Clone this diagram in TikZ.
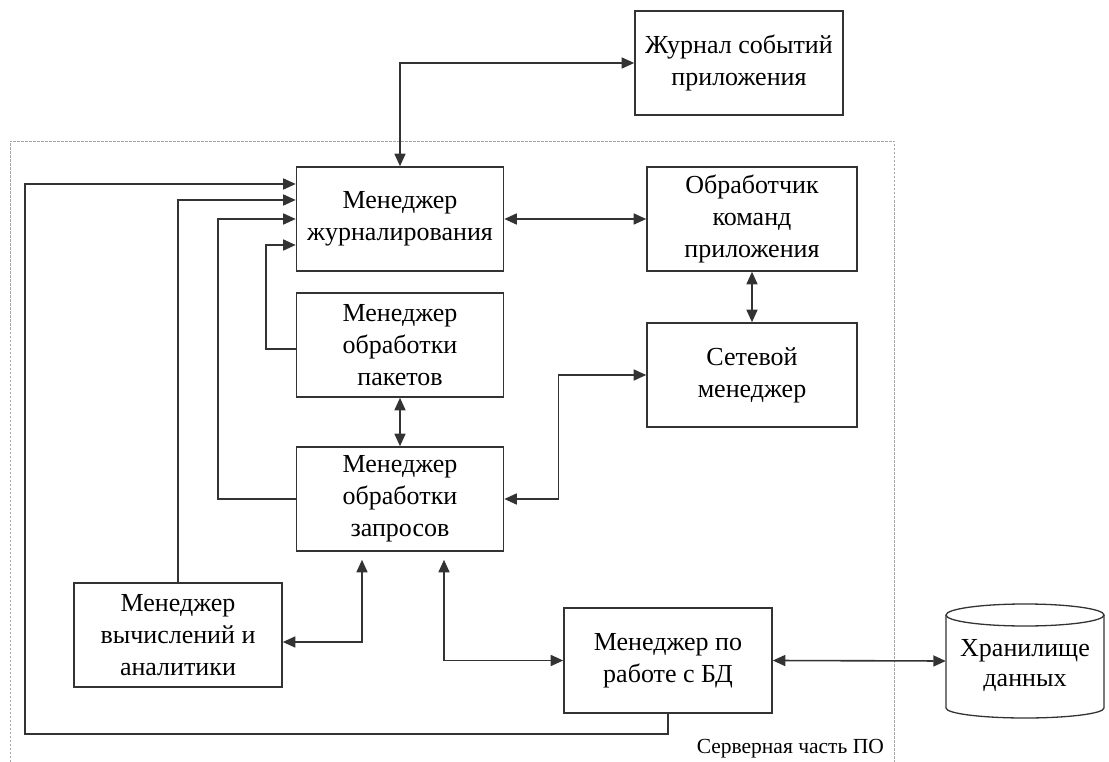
\documentclass[tikz,border=0pt]{standalone}
\usepackage{fontspec}
\setmainfont{Liberation Serif}
\usetikzlibrary{arrows.meta,calc}

\tikzset{
  block/.style={draw=black!80, line width=1.6pt, fill=white, inner sep=0pt,
    align=center, font=\fontsize{26}{32}\selectfont},
  tip/.tip={Triangle[length=12.5pt,width=11pt]},
  link/.style={draw=black!80, line width=1.6pt, arrows={-tip}},
  blink/.style={draw=black!80, line width=1.6pt, arrows={tip-tip}},
  wire/.style={draw=black!80, line width=1.6pt},
  border/.style={draw=black!35, line width=0.9pt, dash pattern=on 2.5pt off 1.5pt}
}

\begin{document}
\begin{tikzpicture}[x=1pt, y=-1pt]
  \useasboundingbox (0,0) rectangle (1109,762);

  % server-side boundary
  \draw[border] (10,770) -- (10,141) -- (894,141) -- (894,770);
  \node[anchor=base east, inner sep=0pt, font=\fontsize{21.5}{25}\selectfont]
    (area) at (884,753) {Серверная часть ПО};

  % blocks
  \node[block, minimum width=208pt, minimum height=104pt] (journal) at (739,63)
    {Журнал событий\\приложения};
  \node[block, minimum width=207pt, minimum height=104pt] (logm) at (400,219)
    {Менеджер\\журналирования};
  \node[block, minimum width=210pt, minimum height=104pt] (cmd) at (752,219)
    {Обработчик\\команд\\приложения};
  \node[block, minimum width=207pt, minimum height=104pt] (pkt) at (400,345)
    {Менеджер\\обработки\\пакетов};
  \node[block, minimum width=210pt, minimum height=104pt] (net) at (752,375)
    {Сетевой\\менеджер};
  \node[block, minimum width=207pt, minimum height=104pt] (req) at (400,499)
    {Менеджер\\обработки\\запросов};
  \node[block, minimum width=208pt, minimum height=104pt] (calc) at (178,635)
    {Менеджер\\вычислений и\\аналитики};
  \node[block, minimum width=208pt, minimum height=105pt] (db) at (668,660.5)
    {Менеджер по\\работе с БД};

  % data storage cylinder
  \node[inner sep=0pt, minimum width=158pt, minimum height=114pt] (store) at (1025,661) {};
  \draw[wire, line width=1.3pt]
    (946,615) -- (946,708) arc[start angle=180, end angle=360, x radius=79, y radius=-10]
    -- (1104,615);
  \draw[wire, line width=1.3pt] (1025,615) ellipse[x radius=79, y radius=11];
  \node[align=center, font=\fontsize{26}{30}\selectfont] (storetext) at (1025,665)
    {Хранилище\\данных};

  % connectors
  \draw[blink] (logm.north) |- (journal.west);
  \draw[blink] (logm.east) -- (cmd.west);
  \draw[blink] (cmd.south) -- (net.north);
  \draw[blink] (pkt.south) -- (req.north);
  \draw[blink] (req.east) -- ++(54,0) |- (net.west);
  \draw[link] (req.west) -- ++(-78,0) |- (logm.west);
  \draw[link] ($(pkt.west)+(0,4)$) -- ++(-30,0) |- ($(logm.west)+(0,26)$);
  \draw[link] (calc.north) |- ($(logm.west)+(0,-19)$);
  \draw[link] (db.south) -- ++(0,20) -| (25,184) -- ($(logm.west)+(0,-35)$);
  \draw[blink] ($(calc.east)+(0,7)$) -| ($(req.south)+(-38,8)$);
  \draw[blink] ($(req.south)+(44,8)$) |- (db.west);
  \draw[blink] (db.east) -- (store.west);
\end{tikzpicture}
\end{document}
